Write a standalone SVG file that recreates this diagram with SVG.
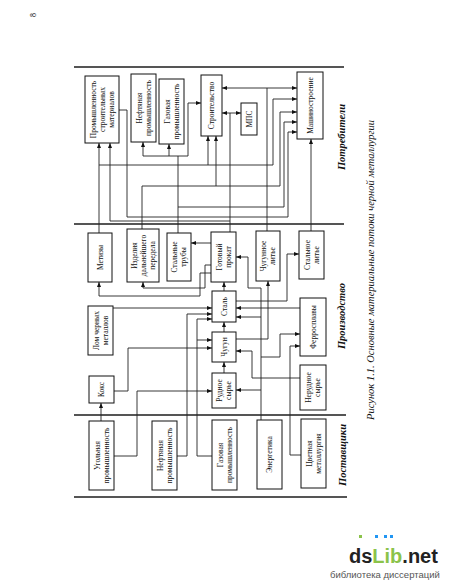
<svg xmlns="http://www.w3.org/2000/svg" width="450" height="582" viewBox="0 0 450 582">
<style>
.bx{fill:#fff;stroke:#111;stroke-width:1}
.t{font-family:"Liberation Serif","DejaVu Serif",serif;font-size:7.5px;fill:#111;text-anchor:middle}
.c{fill:none;stroke:#222;stroke-width:0.9}
.sep{stroke:#555;stroke-width:2}
.sec{font-family:"Liberation Serif",serif;font-size:10.5px;font-weight:bold;font-style:italic;fill:#111;text-anchor:middle}
.cap{font-family:"Liberation Serif",serif;font-size:10.5px;font-style:italic;fill:#111;text-anchor:middle}
</style>
<defs>
<marker id="ar" viewBox="0 0 10 8" refX="10" refY="4" markerWidth="5" markerHeight="4" markerUnits="userSpaceOnUse" orient="auto"><path d="M0,0 L10,4 L0,8 z" fill="#111"/></marker>
</defs>
<rect width="450" height="582" fill="#fff"/>
<text class="t" transform="translate(33,15) rotate(-90)" y="2.6" style="font-size:8px">8</text>

<g id="separators">
<line class="sep" x1="74" y1="67" x2="344" y2="67"/>
<line class="sep" x1="74" y1="224" x2="344" y2="224"/>
<line class="sep" x1="74" y1="415" x2="346" y2="415"/>
<line class="sep" x1="74" y1="497" x2="347" y2="497"/>
</g>

<g id="connectors">
<path class="c" marker-end="url(#ar)" d="M101,421 V403"/>
<path class="c" marker-end="url(#ar)" d="M114,456 H137 V391 H212"/>
<path class="c" marker-end="url(#ar)" d="M114,391 H128 V348 H212"/>
<path class="c" marker-end="url(#ar)" d="M177,456 H187 V314 H212"/>
<path class="c" marker-end="url(#ar)" d="M212,456 H197 V319 H212"/>
<path class="c" marker-end="url(#ar)" d="M197,340 H212"/>
<path class="c" marker-end="url(#ar)" d="M261,420 V288 H248 V257 H236"/>
<path class="c" marker-end="url(#ar)" d="M261,317 H236"/>
<path class="c" marker-end="url(#ar)" d="M261,390 H236"/>
<path class="c" marker-end="url(#ar)" d="M261,357 H280 V334 H300"/>
<path class="c" marker-end="url(#ar)" d="M301,455 H290 V346 H300"/>
<path class="c" marker-end="url(#ar)" d="M300,378 H252 V351 H236"/>
<path class="c" marker-end="url(#ar)" d="M224,373 V362"/>
<path class="c" marker-end="url(#ar)" d="M224,332 V322"/>
<path class="c" marker-end="url(#ar)" d="M224,291 V282"/>
<path class="c" marker-end="url(#ar)" d="M300,308 H236"/>
<path class="c" marker-end="url(#ar)" d="M113,308 H212"/>
<path class="c" marker-end="url(#ar)" d="M236,301 H287 V254 H299"/>
<path class="c" marker-end="url(#ar)" d="M236,339 H268 V281"/>
<path class="c" marker-end="url(#ar)" d="M211,243 H191"/>
<path class="c" marker-end="url(#ar)" d="M211,265 H205 V288 H143 V282"/>
<path class="c" marker-end="url(#ar)" d="M211,273 H200 V296 H99 V282"/>
<path class="c" marker-end="url(#ar)" d="M99,233 V143"/>
<path class="c" marker-end="url(#ar)" d="M99,165 H273 V99 H297"/>
<path class="c" marker-end="url(#ar)" d="M208,165 V136"/>
<path class="c" marker-end="url(#ar)" d="M142,229 V186 H280 V112 H297"/>
<path class="c" marker-end="url(#ar)" d="M216,186 V136"/>
<path class="c" d="M178,233 V156"/>
<path class="c" marker-end="url(#ar)" d="M178,156 H143 V142"/>
<path class="c" marker-end="url(#ar)" d="M169,156 V144"/>
<path class="c" marker-end="url(#ar)" d="M178,156 H188 V103 H201"/>
<path class="c" marker-end="url(#ar)" d="M178,207 H284 V122 H297"/>
<path class="c" d="M230,232 V113"/>
<path class="c" marker-end="url(#ar)" d="M230,113 H222"/>
<path class="c" marker-end="url(#ar)" d="M230,113 H241"/>
<path class="c" marker-end="url(#ar)" d="M230,221 H110 V143"/>
<path class="c" marker-end="url(#ar)" d="M119,110 H127 V217 H288 V132 H297"/>
<path class="c" d="M267,231 V88"/>
<path class="c" marker-end="url(#ar)" d="M267,88 H222"/>
<path class="c" marker-end="url(#ar)" d="M267,88 H297"/>
<path class="c" marker-end="url(#ar)" d="M311,231 V139"/>
</g>

<g id="n-psm"><rect class="bx" x="85" y="76" width="34" height="67"/><text class="t" transform="translate(102,109.5) rotate(-90)"><tspan x="0" y="-6.4">Промышленность</tspan><tspan x="0" y="2.6">строительных</tspan><tspan x="0" y="11.6">материалов</tspan></text></g>
<g id="n-neft-c"><rect class="bx" x="131" y="74" width="25" height="68"/><text class="t" transform="translate(143.5,108) rotate(-90)"><tspan x="0" y="-1.9">Нефтяная</tspan><tspan x="0" y="7.1">промышленность</tspan></text></g>
<g id="n-gaz-c"><rect class="bx" x="159" y="79" width="25" height="65"/><text class="t" transform="translate(171.5,111.5) rotate(-90)"><tspan x="0" y="-1.9">Газовая</tspan><tspan x="0" y="7.1">промышленность</tspan></text></g>
<g id="n-stroit"><rect class="bx" x="201" y="75" width="21" height="61"/><text class="t" transform="translate(211.5,105.5) rotate(-90)" y="2.6">Строительство</text></g>
<g id="n-mps"><rect class="bx" x="241" y="103" width="16" height="32"/><text class="t" transform="translate(249,119) rotate(-90)" y="2.6">МПС</text></g>
<g id="n-mash"><rect class="bx" x="297" y="72" width="26" height="67"/><text class="t" transform="translate(310,105.5) rotate(-90)" y="2.6">Машиностроение</text></g>

<g id="n-metizy"><rect class="bx" x="88" y="233" width="24" height="49"/><text class="t" transform="translate(100,257.5) rotate(-90)" y="2.6">Метизы</text></g>
<g id="n-izdel"><rect class="bx" x="127" y="229" width="32" height="53"/><text class="t" transform="translate(143,255.5) rotate(-90)"><tspan x="0" y="-6.4">Изделия</tspan><tspan x="0" y="2.6">дальнейшего</tspan><tspan x="0" y="11.6">передела</tspan></text></g>
<g id="n-truby"><rect class="bx" x="167" y="233" width="24" height="48"/><text class="t" transform="translate(179,257) rotate(-90)"><tspan x="0" y="-1.9">Стальные</tspan><tspan x="0" y="7.1">трубы</tspan></text></g>
<g id="n-prokat"><rect class="bx" x="211" y="232" width="25" height="50"/><text class="t" transform="translate(223.5,257) rotate(-90)"><tspan x="0" y="-1.9">Готовый</tspan><tspan x="0" y="7.1">прокат</tspan></text></g>
<g id="n-chlit"><rect class="bx" x="256" y="231" width="24" height="50"/><text class="t" transform="translate(268,256) rotate(-90)"><tspan x="0" y="-1.9">Чугунное</tspan><tspan x="0" y="7.1">литье</tspan></text></g>
<g id="n-stlit"><rect class="bx" x="299" y="231" width="25" height="48"/><text class="t" transform="translate(311.5,255) rotate(-90)"><tspan x="0" y="-1.9">Стальное</tspan><tspan x="0" y="7.1">литье</tspan></text></g>
<g id="n-lom"><rect class="bx" x="88" y="306" width="25" height="49"/><text class="t" transform="translate(100.5,330.5) rotate(-90)"><tspan x="0" y="-1.9">Лом черных</tspan><tspan x="0" y="7.1">металлов</tspan></text></g>
<g id="n-stal"><rect class="bx" x="212" y="291" width="24" height="31"/><text class="t" transform="translate(224,306.5) rotate(-90)" y="2.6">Сталь</text></g>
<g id="n-chugun"><rect class="bx" x="212" y="332" width="24" height="30"/><text class="t" transform="translate(224,347) rotate(-90)" y="2.6">Чугун</text></g>
<g id="n-ferro"><rect class="bx" x="300" y="298" width="26" height="58"/><text class="t" transform="translate(313,327) rotate(-90)" y="2.6">Ферросплавы</text></g>
<g id="n-koks"><rect class="bx" x="89" y="376" width="25" height="27"/><text class="t" transform="translate(101.5,389.5) rotate(-90)" y="2.6">Кокс</text></g>
<g id="n-ruda"><rect class="bx" x="212" y="373" width="24" height="35"/><text class="t" transform="translate(224,390.5) rotate(-90)"><tspan x="0" y="-1.9">Рудное</tspan><tspan x="0" y="7.1">сырье</tspan></text></g>
<g id="n-neruda"><rect class="bx" x="300" y="365" width="26" height="45"/><text class="t" transform="translate(313,387.5) rotate(-90)"><tspan x="0" y="-1.9">Нерудное</tspan><tspan x="0" y="7.1">сырье</tspan></text></g>

<g id="n-ugol"><rect class="bx" x="89" y="421" width="25" height="69"/><text class="t" transform="translate(101.5,455.5) rotate(-90)"><tspan x="0" y="-1.9">Угольная</tspan><tspan x="0" y="7.1">промышленность</tspan></text></g>
<g id="n-neft-s"><rect class="bx" x="152" y="421" width="25" height="69"/><text class="t" transform="translate(164.5,455.5) rotate(-90)"><tspan x="0" y="-1.9">Нефтяная</tspan><tspan x="0" y="7.1">промышленность</tspan></text></g>
<g id="n-gaz-s"><rect class="bx" x="212" y="420" width="25" height="70"/><text class="t" transform="translate(224.5,455) rotate(-90)"><tspan x="0" y="-1.9">Газовая</tspan><tspan x="0" y="7.1">промышленность</tspan></text></g>
<g id="n-energ"><rect class="bx" x="257" y="420" width="25" height="69"/><text class="t" transform="translate(269.5,454.5) rotate(-90)" y="2.6">Энергетика</text></g>
<g id="n-cvet"><rect class="bx" x="301" y="419" width="25" height="69"/><text class="t" transform="translate(313.5,453.5) rotate(-90)"><tspan x="0" y="-1.9">Цветная</tspan><tspan x="0" y="7.1">металлургия</tspan></text></g>

<g id="labels">
<text class="sec" transform="translate(341,137) rotate(-90)" y="3.5">Потребители</text>
<text class="sec" transform="translate(341,316) rotate(-90)" y="3.5">Производство</text>
<text class="sec" transform="translate(342,455) rotate(-90)" y="3.5">Поставщики</text>
<text class="cap" transform="translate(370,270) rotate(-90)" y="3.5">Рисунок 1.1. Основные материальные потоки черной металлургии</text>
</g>

<g id="watermark">
<rect x="359" y="535" width="3" height="3" fill="#8bc34a"/>
<rect x="375" y="535" width="3" height="3" fill="#2196f3"/>
<rect x="384" y="535" width="3" height="3" fill="#2196f3"/>
<rect x="390" y="535" width="3" height="3" fill="#2196f3"/>
<text x="349" y="563" style="font-family:'Liberation Sans',Arial,sans-serif;font-size:20px;font-weight:bold"><tspan fill="#222">ds</tspan><tspan fill="#8bc34a">Lib</tspan><tspan fill="#222">.net</tspan></text>
<text x="330" y="578" style="font-family:'Liberation Sans',Arial,sans-serif;font-size:9.5px;fill:#555">библиотека диссертаций</text>
</g>
</svg>
